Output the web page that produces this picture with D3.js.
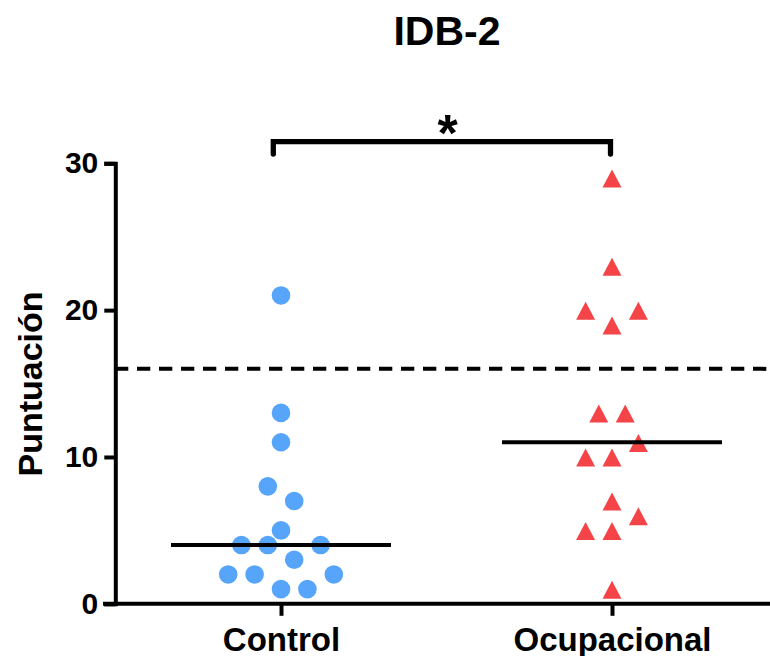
<!DOCTYPE html>
<html>
<head>
<meta charset="utf-8">
<script src="https://d3js.org/d3.v7.min.js"></script>
<style>
  body { margin: 0; background: #fff; }
  svg text { font-family: "Liberation Sans", Arial, sans-serif; font-weight: bold; fill: #000; }
</style>
</head>
<body>
<svg id="s" width="770" height="656"></svg>
<script>
// data
var categories = ["Control", "Ocupacional"];
var controlValues = [21, 13, 11, 8, 7, 5, 4, 4, 4, 3, 2, 2, 2, 1, 1];
var controlSlots  = [0, 0, 0, -1, 1, 0, -3, -1, 3, 1, -4, -2, 4, 0, 2];
var ocupValues = [29, 23, 20, 20, 19, 13, 13, 11, 10, 10, 7, 6, 5, 5, 1];
var ocupSlots  = [0, 0, -2, 2, 0, -1, 1, 2, -2, 0, 0, 2, -2, 0, 0];
var cutoff = 16;
var yTicks = [0, 10, 20, 30];
var title = "IDB-2";
var yLabel = "Puntuación";
var sigLabel = "*";

var svg = d3.select("#s");

var x = d3.scalePoint().domain(categories).range([281, 612]);
var y = d3.scaleLinear().domain([0, 30]).range([603.8, 163.3]);
var jitter = d3.scaleLinear().domain([-1, 1]).range([-13.2, 13.2]);

var groups = [
  {cat: categories[0], values: controlValues, slots: controlSlots, color: "#56a5fb", shape: "circle"},
  {cat: categories[1], values: ocupValues, slots: ocupSlots, color: "#f44447", shape: "triangle"}
];

// dashed cut-off line
svg.append("line")
  .attr("x1", 115).attr("x2", 770)
  .attr("y1", y(cutoff)).attr("y2", y(cutoff))
  .attr("stroke", "#000").attr("stroke-width", 4)
  .attr("stroke-dasharray", "13.3,8.7");

// points
groups.forEach(function (g) {
  var pts = g.values.map(function (v, i) { return {v: v, s: g.slots[i]}; });
  if (g.shape === "circle") {
    svg.selectAll(null).data(pts).enter().append("circle")
      .attr("cx", function (d) { return x(g.cat) + jitter(d.s); })
      .attr("cy", function (d) { return y(d.v); })
      .attr("r", 9.3)
      .attr("fill", g.color);
  } else {
    svg.selectAll(null).data(pts).enter().append("path")
      .attr("d", "M0,-9L9.5,9L-9.5,9Z")
      .attr("transform", function (d) { return "translate(" + (x(g.cat) + jitter(d.s)) + "," + (y(d.v) + 0.6) + ")"; })
      .attr("fill", g.color);
  }
});

// median lines
groups.forEach(function (g) {
  var m = d3.median(g.values);
  svg.append("line")
    .attr("x1", x(g.cat) - 110).attr("x2", x(g.cat) + 110)
    .attr("y1", y(m)).attr("y2", y(m))
    .attr("stroke", "#000").attr("stroke-width", 4);
});

// y axis
var yAxis = svg.append("g")
  .attr("transform", "translate(115.3,0)")
  .call(d3.axisLeft(y).tickValues(yTicks).tickSize(11).tickPadding(6));
yAxis.selectAll("path, line").attr("stroke", "#000").attr("stroke-width", 4);
yAxis.select(".domain").attr("stroke-linejoin", "miter");
yAxis.selectAll("text").style("font-size", "30px").style("font-family", "'Liberation Sans', Arial, sans-serif").style("font-weight", "bold");

// x axis
var xAxis = svg.append("g")
  .attr("transform", "translate(0," + y(0) + ")")
  .call(d3.axisBottom(x).tickSize(12).tickPadding(12));
xAxis.select(".domain").remove();
xAxis.selectAll("line").attr("stroke", "#000").attr("stroke-width", 4);
xAxis.selectAll("text").style("font-size", "33px").style("font-family", "'Liberation Sans', Arial, sans-serif").style("font-weight", "bold");
xAxis.append("line")
  .attr("x1", 103).attr("x2", 770)
  .attr("stroke", "#000").attr("stroke-width", 4);

// significance bracket
svg.append("path")
  .attr("d", "M273.3,154V141.7H610.5V154")
  .attr("fill", "none").attr("stroke", "#000").attr("stroke-width", 5.3)
  .attr("stroke-linecap", "round");
svg.append("text")
  .attr("x", 447.5).attr("y", 151)
  .attr("text-anchor", "middle")
  .style("font-size", "52px")
  .text(sigLabel);

// title
svg.append("text")
  .attr("x", 447).attr("y", 45)
  .attr("text-anchor", "middle")
  .style("font-size", "41px")
  .text(title);

// y label
svg.append("text")
  .attr("transform", "translate(41.7,384) rotate(-90)")
  .attr("text-anchor", "middle")
  .style("font-size", "34px")
  .text(yLabel);
</script>
</body>
</html>
